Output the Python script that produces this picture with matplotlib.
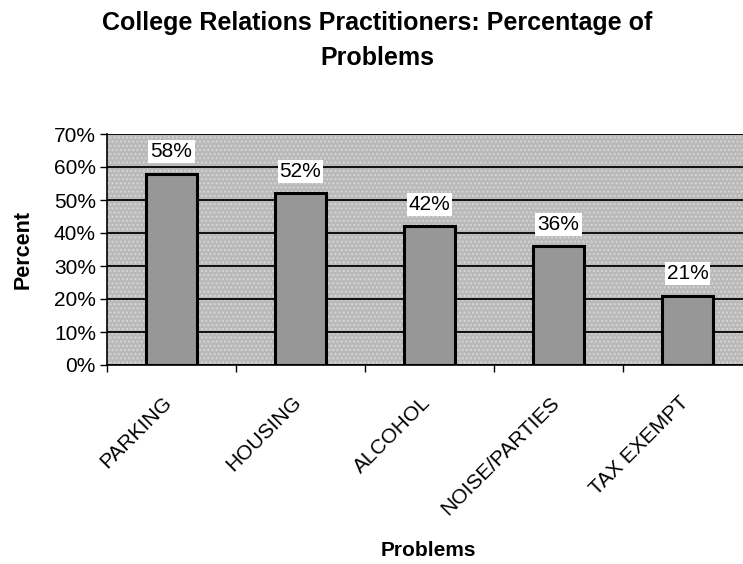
import numpy as np
import matplotlib.pyplot as plt
from matplotlib.ticker import FuncFormatter, FixedLocator
from matplotlib.transforms import ScaledTranslation

# data
problems = ['PARKING', 'HOUSING', 'ALCOHOL', 'NOISE/PARTIES', 'TAX EXEMPT']
percent = [58, 52, 42, 36, 21]
yticks = [0, 10, 20, 30, 40, 50, 60, 70]

plt.rcParams['font.family'] = ['Liberation Sans', 'DejaVu Sans']

W, H = 743, 564
fig = plt.figure(figsize=(W/100, H/100), dpi=100)
# plot area runs past the right edge, as in the scan
ax = fig.add_axes([107/W, 1 - 365/H, 645/W, 231/H])

ax.set_facecolor('#b9b9b9')
ax.patch.set_hatch('....')
ax.patch.set_edgecolor('#d6d6d6')

x = np.arange(len(problems))
bars = ax.bar(x, percent, width=0.40, color='#979797', edgecolor='black',
              linewidth=2.2, zorder=3)

for b, v in zip(bars, percent):
    ax.annotate('{0}%'.format(v), (b.get_x() + b.get_width()/2, v),
                xytext=(0, 9), textcoords='offset points', ha='center',
                va='bottom', fontsize=15, zorder=4,
                bbox=dict(boxstyle='square,pad=0.1', fc='white', ec='none'))

ax.set_xlim(-0.5, len(problems) - 0.5)
ax.set_ylim(0, 70)
ax.set_yticks(yticks)
ax.yaxis.set_major_formatter(FuncFormatter(lambda v, p: '{0:.0f}%'.format(v)))
ax.grid(axis='y', color='black', linewidth=1.3, zorder=1)
ax.set_axisbelow(True)

ax.set_xticks(x)
ax.set_xticklabels(problems, rotation=45, ha='right', va='top',
                   rotation_mode='anchor', fontsize=15)
ax.tick_params(axis='x', length=0, pad=20)
off = ScaledTranslation(-9/100, 0, fig.dpi_scale_trans)
for lab in ax.get_xticklabels():
    lab.set_transform(lab.get_transform() + off)
ax.xaxis.set_minor_locator(FixedLocator(np.arange(len(problems) + 1) - 0.5))
ax.tick_params(axis='x', which='minor', length=5, width=1, direction='out')
ax.tick_params(axis='y', labelsize=15, length=5, width=1, direction='out',
               pad=3)

for s in ['top', 'right']:
    ax.spines[s].set_visible(False)
ax.spines['left'].set_linewidth(1.2)
ax.spines['bottom'].set_linewidth(1.2)

fig.text(23/W, 1 - 250/H, 'Percent', rotation=90, ha='center', va='center',
         fontsize=15.5, fontweight='bold')
fig.text(428/W, 1 - 550/H, 'Problems', ha='center', va='center',
         fontsize=15, fontweight='bold')
fig.text(377/W, 1 - 23/H, 'College Relations Practitioners: Percentage of',
         ha='center', va='center', fontsize=18, fontweight='bold')
fig.text(377/W, 1 - 58/H, 'Problems', ha='center', va='center',
         fontsize=18, fontweight='bold')

fig.savefig('out.png', dpi=100)
